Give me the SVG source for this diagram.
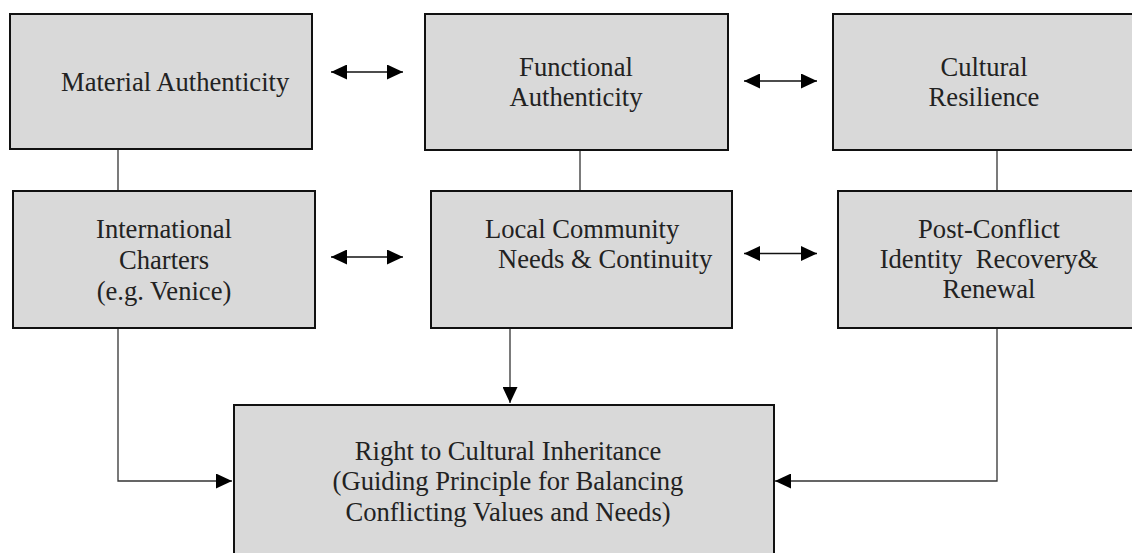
<svg xmlns="http://www.w3.org/2000/svg" width="1132" height="553" viewBox="0 0 1132 553">
  <style>
    .box { fill: #d9d9d9; stroke: #111; stroke-width: 2; }
    .lbl { font-family: "Liberation Serif", "Times New Roman", serif; font-size: 26.6px; fill: #222; }
    .mid { text-anchor: middle; }
    .link { fill: none; stroke: #333; stroke-width: 1.3; }
    .dbl { fill: none; stroke: #111; stroke-width: 1.5; }
  </style>
  <defs>
    <marker id="head" viewBox="0 0 16 15" refX="16" refY="7.5" markerWidth="16" markerHeight="15" markerUnits="userSpaceOnUse" orient="auto-start-reverse">
      <path d="M0,0 L16,7.5 L0,15 Z" fill="#000"/>
    </marker>
  </defs>
  <rect width="1132" height="553" fill="#fff"/>

  <!-- connectors -->
  <g id="connectors">
    <line class="link" x1="118" y1="150" x2="118" y2="190"/>
    <line class="link" x1="580" y1="151" x2="580" y2="190"/>
    <line class="link" x1="997" y1="151" x2="997" y2="190"/>
    <path class="link" d="M118,329 V481 H232" marker-end="url(#head)"/>
    <path class="link" d="M510,329 V403" marker-end="url(#head)"/>
    <path class="link" d="M997,329 V481 H775" marker-end="url(#head)"/>
    <path class="dbl" d="M331,72 H403" marker-start="url(#head)" marker-end="url(#head)"/>
    <path class="dbl" d="M744,81 H817" marker-start="url(#head)" marker-end="url(#head)"/>
    <path class="dbl" d="M331,257 H403" marker-start="url(#head)" marker-end="url(#head)"/>
    <path class="dbl" d="M744,253.5 H817" marker-start="url(#head)" marker-end="url(#head)"/>
  </g>

  <g id="material-authenticity">
    <rect class="box" x="10" y="14" width="302" height="135"/>
    <text class="lbl" x="61" y="91">Material Authenticity</text>
  </g>

  <g id="functional-authenticity">
    <rect class="box" x="425" y="14" width="303" height="136"/>
    <text class="lbl mid" x="576" y="76">Functional</text>
    <text class="lbl mid" x="576" y="106">Authenticity</text>
  </g>

  <g id="cultural-resilience">
    <rect class="box" x="833" y="14" width="320" height="136"/>
    <text class="lbl mid" x="984" y="76">Cultural</text>
    <text class="lbl mid" x="984" y="106">Resilience</text>
  </g>

  <g id="international-charters">
    <rect class="box" x="13" y="191" width="302" height="137"/>
    <text class="lbl mid" x="164" y="238">International</text>
    <text class="lbl mid" x="164" y="269">Charters</text>
    <text class="lbl mid" x="164" y="300">(e.g. Venice)</text>
  </g>

  <g id="local-community">
    <rect class="box" x="431" y="191" width="301" height="137"/>
    <text class="lbl" x="485" y="238">Local Community</text>
    <text class="lbl" x="498" y="268">Needs &amp; Continuity</text>
  </g>

  <g id="post-conflict">
    <rect class="box" x="838" y="191" width="320" height="137"/>
    <text class="lbl mid" x="989" y="238">Post-Conflict</text>
    <text class="lbl mid" x="989" y="268" xml:space="preserve">Identity  Recovery&amp;</text>
    <text class="lbl mid" x="989" y="298">Renewal</text>
  </g>

  <g id="cultural-inheritance">
    <rect class="box" x="234" y="405" width="540" height="170"/>
    <text class="lbl mid" x="508" y="460">Right to Cultural Inheritance</text>
    <text class="lbl mid" x="508" y="490">(Guiding Principle for Balancing</text>
    <text class="lbl mid" x="508" y="521">Conflicting Values and Needs)</text>
  </g>
</svg>
